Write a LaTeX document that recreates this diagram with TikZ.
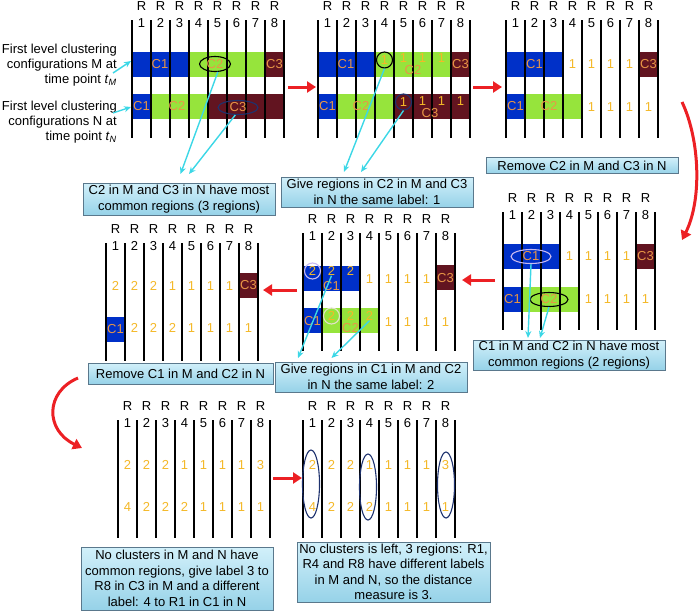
\documentclass[tikz,border=0pt]{standalone}
\usepackage{fontspec}
\setmainfont{Liberation Sans}
\usetikzlibrary{arrows.meta,shapes.geometric}
\definecolor{cblue}{RGB}{0,48,200}
\definecolor{cgreen}{RGB}{150,228,60}
\definecolor{cmaroon}{RGB}{98,20,32}
\definecolor{labc}{RGB}{232,150,70}
\definecolor{digc}{RGB}{244,184,40}
\definecolor{arrc}{RGB}{60,215,230}
\definecolor{redc}{RGB}{236,32,36}
\definecolor{boxtop}{RGB}{210,240,250}
\definecolor{boxbot}{RGB}{150,210,232}
\definecolor{boxedge}{RGB}{90,120,140}
\definecolor{navyc}{RGB}{30,50,110}
\definecolor{lavc}{RGB}{200,185,240}
\definecolor{palec}{RGB}{225,225,200}

% grid of 8 regions: left x, top y
\newcommand\regiongrid[2]{%
  \foreach \i in {0,...,8}
    \draw[regionline] ({#1+19*\i},#2) -- ({#1+19*\i},#2+118);
  \foreach \i in {1,...,8} {
    \node[hdr] (g#1r\i) at ({#1+19*\i-9.5},#2-14) {R};
    \node[hdr] (g#1n\i) at ({#1+19*\i-9.5},#2+3) {\i};
  }%
}
% row of labels: centre x of first column, y, labels, name prefix
\newcommand\regionrow[4]{%
  \foreach \v [count=\k] in {#3}
    \node[dig] (#4\k) at ({#1+19*(\k-1)},#2) {\v};%
}

\begin{document}
\begin{tikzpicture}[x=1pt,y=-1pt,
  regionline/.style={line width=1.3pt,black},
  hdr/.style={font=\fontsize{13}{15}\selectfont,inner sep=0pt},
  lab/.style={text=labc,font=\fontsize{13}{15}\selectfont,inner sep=0pt},
  dig/.style={text=digc,font=\fontsize{13}{15}\selectfont,inner sep=0pt},
  ring/.style={draw=#1,ellipse,line width=1.1pt,inner sep=0pt,text=labc,font=\fontsize{13}{15}\selectfont},
  note/.style={draw=boxedge,line width=1pt,top color=boxtop,bottom color=boxbot,align=center,inner sep=1pt,font=\fontsize{13}{15.5}\selectfont},
  side/.style={align=right,anchor=east,inner sep=0pt,font=\fontsize{13}{15}\selectfont},
  cyanarr/.style={draw=arrc,line width=1.4pt,-{Stealth[length=7pt,width=6pt]}},
  redarr/.style={draw=redc,line width=3pt,-{Triangle[length=9pt,width=11pt]}}]
\useasboundingbox (0,0) rectangle (700,613);

% left texts
\node[side] (txtM) at (117,65) {First level clustering\\configurations M at\\time point \textit{t}\textsubscript{\textit{M}}};
\node[side] (txtN) at (117,122) {First level clustering\\configurations N at\\time point \textit{t}\textsubscript{\textit{N}}};
\coordinate (tipM) at (131,61);
\coordinate (tipN) at (131,107);

% panel 1
\fill[cblue] (132,52) rectangle (189,77);
\fill[cgreen] (189,52) rectangle (265,77);
\fill[cmaroon] (265,52) rectangle (284,77);
\fill[cblue] (132,94) rectangle (151,119);
\fill[cgreen] (151,94) rectangle (208,119);
\fill[cmaroon] (208,94) rectangle (284,119);
\regiongrid{132}{20}
\node[lab] (p1mc1) at (160,64.5) {C1};
\node[ring=black,minimum width=31pt,minimum height=15pt] (p1mc2) at (215,64) {C2};
\node[lab] (p1mc3) at (274.5,64.5) {C3};
\node[lab] (p1nc1) at (141.5,106.5) {C1};
\node[lab] (p1nc2) at (177,106.5) {C2};
\node[ring=navyc,minimum width=40pt,minimum height=14pt] (p1nc3) at (238,107.5) {C3};

% panel 2
\fill[cblue] (318,52) rectangle (374,77);
\fill[cgreen] (374,52) rectangle (451,77);
\fill[cmaroon] (451,52) rectangle (470,77);
\fill[cblue] (318,94) rectangle (336,119);
\fill[cgreen] (336,94) rectangle (393,119);
\fill[cmaroon] (393,94) rectangle (470,119);
\regiongrid{318}{20}
\node[lab] (p2mc1) at (346,64.5) {C1};
\node[ring=black,circle,minimum size=16pt,text=digc] (p2m4) at (384.5,60) {1};
\regionrow{403.5}{58}{1,1,1}{p2m}
\node[lab] (p2mc2) at (413,70) {C2};
\node[lab] (p2mc3) at (460.5,64.5) {C3};
\node[lab] (p2nc1) at (327.5,106.5) {C1};
\node[lab] (p2nc2) at (361,106.5) {C2};
\node[ring=navyc,circle,minimum size=16pt,text=digc] (p2n5) at (403.5,102) {1};
\regionrow{422.5}{101}{1,1,1}{p2n}
\node[lab] (p2nc3) at (430,113) {C3};

% panel 3
\fill[cblue] (506,52) rectangle (563,77);
\fill[cmaroon] (638,52) rectangle (657,77);
\fill[cblue] (506,94) rectangle (524,119);
\fill[cgreen] (524,94) rectangle (582,119);
\regiongrid{506}{20}
\node[lab] (p3mc1) at (534.5,64.5) {C1};
\regionrow{572.5}{64}{1,1,1,1}{p3m}
\node[lab] (p3mc3) at (648.5,64.5) {C3};
\node[lab] (p3nc1) at (515.5,106.5) {C1};
\node[lab] (p3nc2) at (549,106.5) {C2};
\regionrow{591.5}{107}{1,1,1,1}{p3n}

% panel 4
\fill[cblue] (503,244) rectangle (560,269);
\fill[cmaroon] (636,244) rectangle (655,269);
\fill[cblue] (503,287) rectangle (522,312);
\fill[cgreen] (522,287) rectangle (578,312);
\regiongrid{503}{212}
\node[ring=lavc,minimum width=40pt,minimum height=14pt] (p4mc1) at (531,256.5) {C1};
\regionrow{569.5}{256.5}{1,1,1,1}{p4m}
\node[lab] (p4mc3) at (645.5,256.5) {C3};
\node[lab] (p4nc1) at (512.5,299.5) {C1};
\node[ring=black,minimum width=38pt,minimum height=14pt] (p4nc2) at (549,299.5) {C2};
\regionrow{588.5}{299.5}{1,1,1,1}{p4n}

% panel 5
\fill[cblue] (303,266) rectangle (360,291);
\fill[cmaroon] (436,265) rectangle (455,290);
\fill[cblue] (303,308) rectangle (322,333);
\fill[cgreen] (322,308) rectangle (379,333);
\regiongrid{303}{233}
\node[ring=lavc,circle,minimum size=16pt,text=digc] (p5m1) at (312.5,271) {2};
\regionrow{331.5}{271}{2,2}{p5m}
\node[lab] (p5mc1) at (331.5,286) {C1};
\regionrow{369.5}{279}{1,1,1,1}{p5mo}
\node[lab] (p5mc3) at (445.5,278) {C3};
\node[lab] (p5nc1) at (312.5,321) {C1};
\node[ring=palec,circle,minimum size=16pt,text=digc] (p5n2) at (331.5,316) {2};
\regionrow{350.5}{316}{2,2}{p5n}
\node[lab] (p5nc2) at (350.5,328) {C2};
\regionrow{388.5}{322}{1,1,1,1}{p5no}

% panel 6
\fill[cmaroon] (238,273) rectangle (257,298);
\fill[cblue] (106,317) rectangle (124,342);
\regiongrid{106}{243}
\regionrow{115.5}{286}{2,2,2,1,1,1,1}{p6m}
\node[lab] (p6mc3) at (248.5,285.5) {C3};
\node[lab] (p6nc1) at (115.5,329.5) {C1};
\regionrow{134.5}{328}{2,2,2,1,1,1,1}{p6n}

% panel 7
\regiongrid{118}{420}
\regionrow{127.5}{465}{2,2,2,1,1,1,1,3}{p7m}
\regionrow{127.5}{507}{4,2,2,2,1,1,1,1}{p7n}

% panel 8
\regiongrid{303}{420}
\regionrow{312.5}{465}{2,2,2,1,1,1,1,3}{p8m}
\regionrow{312.5}{507}{4,2,2,2,1,1,1,1}{p8n}
\node[ring=navyc,minimum width=17pt,minimum height=68pt] (p8e1) at (311,484) {};
\node[ring=navyc,minimum width=17pt,minimum height=66pt] (p8e4) at (368,487) {};
\node[ring=navyc,minimum width=17pt,minimum height=66pt] (p8e8) at (446,485) {};

% text boxes
\node[note,minimum width=192pt,minimum height=32pt] (box1) at (179,199) {C2 in M and C3 in N have most\\common regions (3 regions)};
\node[note,minimum width=192pt,minimum height=30pt] (box2) at (377,192) {Give regions in C2 in M and C3\\in N the same label: 1};
\node[note,minimum width=192pt,minimum height=16pt] (box3) at (582,165.5) {Remove C2 in M and C3 in N};
\node[note,minimum width=192pt,minimum height=30pt] (box4) at (569,355) {C1 in M and C2 in N have most\\common regions (2 regions)};
\node[note,minimum width=192pt,minimum height=30pt] (box5) at (371,377) {Give regions in C1 in M and C2\\in N the same label: 2};
\node[note,minimum width=185pt,minimum height=21pt] (box6) at (180.5,373.5) {Remove C1 in M and C2 in N};
\node[note,minimum width=192pt,minimum height=63pt] (box7) at (177,578.5) {No clusters in M and N have\\common regions, give label 3 to\\R8 in C3 in M and a different\\label: 4 to R1 in C1 in N};
\node[note,minimum width=193pt,minimum height=60pt] (box8) at (393.5,572) {No clusters is left, 3 regions: R1,\\R4 and R8 have different labels\\in M and N, so the distance\\measure is 3.};

% cyan pointers
\coordinate (t1a) at (180.5,174);
\coordinate (t1b) at (189,174);
\coordinate (t2a) at (344,172);
\coordinate (t2b) at (361,172);
\coordinate (t4a) at (528,338);
\coordinate (t4b) at (540,338);
\coordinate (t5a) at (298,358);
\coordinate (t5b) at (331.5,358);
\draw[cyanarr] ([xshift=-4pt,yshift=-8pt]txtM.east) -- (tipM);
\draw[cyanarr] ([xshift=-4pt,yshift=9pt]txtN.east) -- (tipN);
\draw[cyanarr] (p1mc2.-70) -- (t1a);
\draw[cyanarr] (p1nc3.250) -- (t1b);
\draw[cyanarr] (p2m4.south) -- (t2a);
\draw[cyanarr] (p2n5.south) -- (t2b);
\draw[cyanarr] (p4mc1.south) -- (t4a);
\draw[cyanarr] (p4nc2.south) -- (t4b);
\draw[cyanarr] (p5m1.south) -- (t5a);
\draw[cyanarr] (p5n2.south) -- (t5b);

% red step arrows
\coordinate (r12a) at (288,87);
\coordinate (r12b) at (316,87);
\coordinate (r23a) at (473,87);
\coordinate (r23b) at (502,87);
\coordinate (r34a) at (682,102);
\coordinate (r34b) at (682,240);
\coordinate (r45a) at (495,280);
\coordinate (r45b) at (462,280);
\coordinate (r56a) at (297,290);
\coordinate (r56b) at (263,290);
\coordinate (r67a) at (78,378);
\coordinate (r67b) at (82,448);
\coordinate (r78a) at (273,478);
\coordinate (r78b) at (302,478);
\draw[redarr] (r12a) -- (r12b);
\draw[redarr] (r23a) -- (r23b);
\draw[redarr] (r34a) .. controls (700,140) and (702,200) .. (r34b);
\draw[redarr] (r45a) -- (r45b);
\draw[redarr] (r56a) -- (r56b);
\draw[redarr] (r67a) .. controls (45,392) and (45,430) .. (r67b);
\draw[redarr] (r78a) -- (r78b);
\end{tikzpicture}
\end{document}
